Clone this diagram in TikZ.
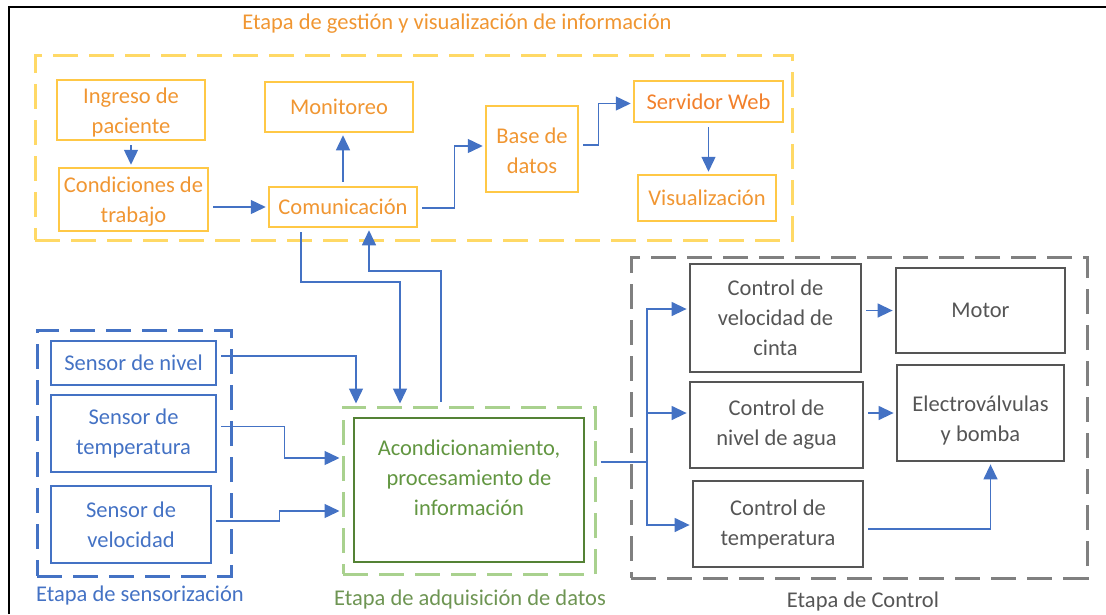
\documentclass[tikz,border=0pt]{standalone}
\usepackage{fontspec}
\setmainfont{Carlito}
\usepackage{tikz}
\usetikzlibrary{shapes,arrows.meta,positioning}
\definecolor{txtorange}{RGB}{240,150,50}
\definecolor{boxyellow}{RGB}{255,200,70}
\definecolor{frameyellow}{RGB}{255,217,102}
\definecolor{sensblue}{RGB}{68,114,196}
\definecolor{framegreen}{RGB}{169,209,142}
\definecolor{boxgreen}{RGB}{84,130,53}
\definecolor{txtgreen}{RGB}{98,150,65}
\definecolor{framegray}{RGB}{128,128,128}
\definecolor{boxgray}{RGB}{85,85,85}
\tikzstyle{yellowblock}=[rectangle, draw=boxyellow, line width=2.5pt, align=center, text=txtorange, inner sep=0pt]
\tikzstyle{blueblock}=[rectangle, draw=sensblue, line width=2.5pt, align=center, text=sensblue, inner sep=0pt]
\tikzstyle{grayblock}=[rectangle, draw=boxgray, line width=2.8pt, align=center, text=boxgray, inner sep=0pt]
\tikzstyle{stageframe}=[rectangle, line width=3pt, dash pattern=on 25pt off 11pt, inner sep=0pt]
\tikzstyle{conn}=[->, draw=sensblue, line width=1.4pt, shorten <=4pt, shorten >=2pt]

\begin{document}
\begin{tikzpicture}[x=1pt,y=-1pt,every node/.style={font=\fontsize{22.5}{30}\selectfont},>={Triangle[length=15pt,width=14pt]}]
\useasboundingbox (0,0) rectangle (1106,614);
\draw[line width=2pt] (9,614) -- (9,7) -- (1106,7);

% etapas
\node[stageframe, draw=frameyellow, minimum width=757, minimum height=185](gestframe) at (413.5,147.5) {};
\node[stageframe, draw=sensblue, minimum width=194, minimum height=246](sensframe) at (134,453) {};
\node[stageframe, draw=framegreen, minimum width=252, minimum height=167](adqframe) at (469,490.5) {};
\node[stageframe, draw=framegray, minimum width=456, minimum height=321](ctrlframe) at (859,417.5) {};
\node[text=txtorange](gestlbl) at (457,24) {Etapa de gestión y visualización de información};
\node[text=sensblue](senslbl) at (140,595) {Etapa de sensorización};
\node[text=boxgreen!85](adqlbl) at (470,599) {Etapa de adquisición de datos};
\node[text=boxgray](ctrllbl) at (863,601) {Etapa de Control};

% gestion
\node[yellowblock, minimum width=148, minimum height=60](ingreso) at (131,110) {\rule{0pt}{20pt}Ingreso de\\paciente};
\node[yellowblock, minimum width=149, minimum height=63](cond) at (133.5,199.5) {\rule{0pt}{20pt}Condiciones de\\trabajo};
\node[yellowblock, minimum width=148, minimum height=50](monit) at (339,107) {Monitoreo};
\node[yellowblock, minimum width=148, minimum height=40](comm) at (343,207) {Comunicación};
\node[yellowblock, minimum width=92, minimum height=86](base) at (532,149) {\rule{0pt}{20pt}Base de\\datos};
\node[yellowblock, minimum width=149, minimum height=41, text=txtorange!85!red](serv) at (708.5,101.5) {Servidor Web};
\node[yellowblock, minimum width=138, minimum height=46](vis) at (707,198) {Visualización};

% sensores
\node[blueblock, minimum width=165, minimum height=44](nivel) at (133.5,363) {Sensor de nivel};
\node[blueblock, minimum width=165, minimum height=77](temp) at (133.5,433.5) {Sensor de\\temperatura};
\node[blueblock, minimum width=160, minimum height=77](vel) at (131,524.5) {Sensor de\\velocidad};

% adquisicion
\node[rectangle, draw=boxgreen, line width=2.5pt, minimum width=230, minimum height=144](acq) at (469,490) {};
\node[align=center, text=txtgreen](acqtxt) at (469,478) {Acondicionamiento,\\procesamiento de\\información};

% control
\node[grayblock, minimum width=171, minimum height=108](cvel) at (775.5,318) {Control de\\velocidad de\\cinta};
\node[grayblock, minimum width=173, minimum height=86](cniv) at (776.5,425) {Control de\\nivel de agua};
\node[grayblock, minimum width=170, minimum height=86](ctemp) at (778,524) {Control de\\temperatura};
\node[grayblock, minimum width=169, minimum height=85](motor) at (980.5,310.5) {Motor};
\node[grayblock, minimum width=167, minimum height=96](electro) at (980.5,413) {\rule{0pt}{30pt}Electroválvulas\\y bomba};

\coordinate (dnbend) at (400,282);
\coordinate (upbend) at (369,271);
\coordinate (split) at (647,462);

\draw[conn](ingreso.south) -- (ingreso.south |- cond.north);
\draw[conn](cond.east |- comm.west) -- (comm.west);
\draw[conn](comm.north) -- (comm.north |- monit.south);
\draw[conn]([yshift=-1pt]comm.east) -- ++(36,0) |- ([yshift=3pt]base.west);
\draw[conn]([yshift=4pt]base.east) -- ++(19,0) |- ([yshift=-2pt]serv.west);
\draw[conn](serv.south) -- (serv.south |- vis.north);
\draw[conn]([xshift=-42pt]comm.south) |- (dnbend) -- (dnbend |- adqframe.north);
\draw[conn](441,0 |- adqframe.north) |- (upbend) -- (upbend |- comm.south);
\draw[conn]([yshift=7pt]nivel.east) -| (356,0 |- adqframe.north);
\draw[conn]([yshift=7pt]temp.east) -- ++(67,0) |- (adqframe.west |- 0,458);
\draw[conn]([yshift=3.5pt]vel.east) -- ++(67,0) |- (adqframe.west |- 0,511);
\draw[conn, shorten >=0pt, -](adqframe.east |- split) -- (split);
\draw[conn, shorten <=0pt](split) |- ([yshift=9pt]cvel.west);
\draw[conn, shorten <=0pt](split) |- ([yshift=12pt]cniv.west);
\draw[conn, shorten <=0pt](split) |- ([yshift=-1pt]ctemp.west);
\draw[conn](cvel.east |- motor.west) -- (motor.west);
\draw[conn](cniv.east |- electro.west) -- (electro.west);
\draw[conn]([yshift=-5pt]ctemp.east) -| ([xshift=10pt]electro.south);

\end{tikzpicture}
\end{document}
